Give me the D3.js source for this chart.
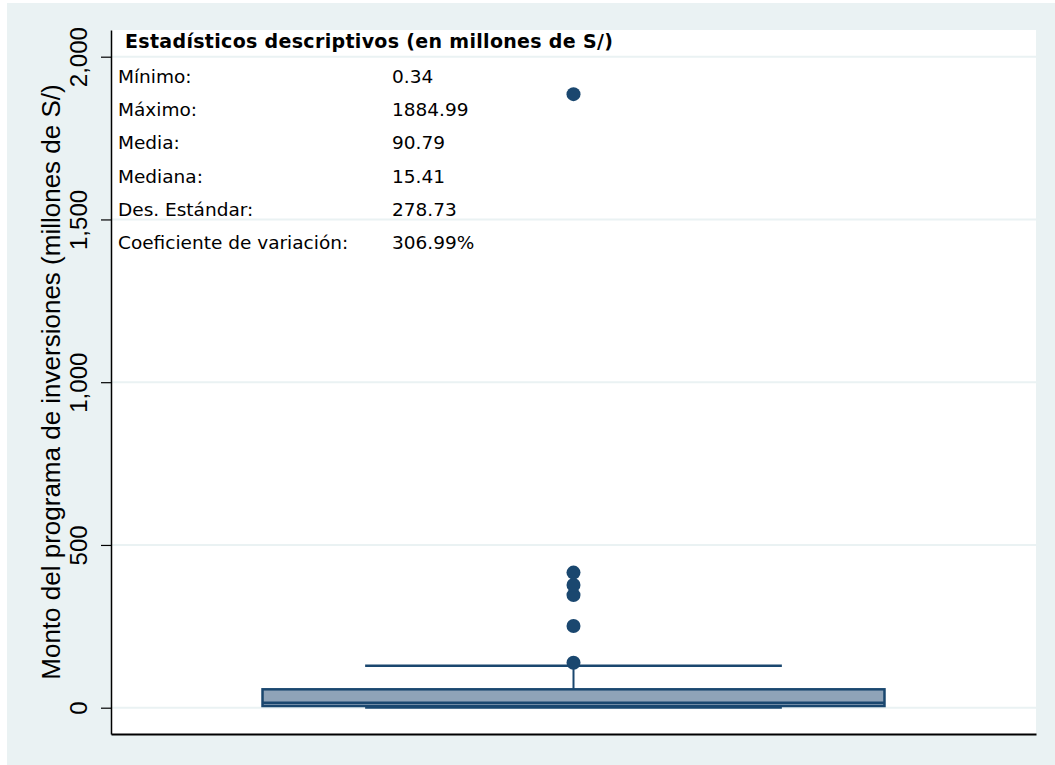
<!DOCTYPE html>
<html>
<head>
<meta charset="utf-8">
<script src="https://cdn.jsdelivr.net/npm/d3@7"></script>
<style>
  body { margin: 0; background: #fff; }
  svg { display: block; }
</style>
</head>
<body>
<svg width="1055" height="765"></svg>
<script>
var svg = d3.select("svg"),
  width = +svg.attr("width"),
  height = +svg.attr("height");

// Data
var category = ["Monto"];
var boxStats = { lowWhisker: 0.34, q1: 5.2, median: 15.41, q3: 56.5, highWhisker: 129 };
var outliers = [138, 251, 346, 377, 415, 1884.99];
var yTicks = [0, 500, 1000, 1500, 2000];
var statLabels = ["Mínimo:", "Máximo:", "Media:", "Mediana:", "Des. Estándar:", "Coeficiente de variación:"];
var statValues = ["0.34", "1884.99", "90.79", "15.41", "278.73", "306.99%"];
var statTitle = "Estadísticos descriptivos (en millones de S/)";
var yTitle = "Monto del programa de inversiones (millones de S/)";

var navy = "#1a476f";
var plot = { left: 111, right: 1036, top: 30, bottom: 734 };

// background + plot region
svg.append("rect").attr("x", 7).attr("y", 3).attr("width", width - 7).attr("height", height - 3)
  .attr("fill", "#eaf2f3");
svg.append("rect").attr("x", plot.left).attr("y", plot.top)
  .attr("width", plot.right - plot.left).attr("height", plot.bottom - plot.top)
  .attr("fill", "#fff");

// scales
var y = d3.scaleLinear().domain([-80.8, 2082]).range([plot.bottom, plot.top]);
var x = d3.scaleBand().domain(category).range([plot.left, plot.right])
  .paddingInner(0).paddingOuter(0.2436);

// gridlines
svg.append("g")
  .selectAll("line")
  .data(yTicks)
  .enter().append("line")
    .attr("x1", plot.left).attr("x2", plot.right)
    .attr("y1", function(d) { return y(d); })
    .attr("y2", function(d) { return y(d); })
    .attr("stroke", "#eaf2f3")
    .attr("stroke-width", 2);

// box plot
var g = svg.append("g");
var cx = x("Monto") + x.bandwidth() / 2;
var capHalf = x.bandwidth() * 0.335;

g.append("line")
  .attr("x1", cx).attr("x2", cx)
  .attr("y1", y(boxStats.q3)).attr("y2", y(boxStats.highWhisker))
  .attr("stroke", navy).attr("stroke-width", 2);
g.append("line")
  .attr("x1", cx).attr("x2", cx)
  .attr("y1", y(boxStats.q1)).attr("y2", y(boxStats.lowWhisker))
  .attr("stroke", navy).attr("stroke-width", 2);

g.append("rect")
  .attr("x", x("Monto"))
  .attr("y", y(boxStats.q3))
  .attr("width", x.bandwidth())
  .attr("height", y(boxStats.q1) - y(boxStats.q3))
  .attr("fill", "#8fa3b8")
  .attr("stroke", navy)
  .attr("stroke-width", 2.5);

g.append("line")
  .attr("x1", x("Monto")).attr("x2", x("Monto") + x.bandwidth())
  .attr("y1", y(boxStats.median)).attr("y2", y(boxStats.median))
  .attr("stroke", navy).attr("stroke-width", 2.5);

g.selectAll(".cap")
  .data([boxStats.highWhisker, boxStats.lowWhisker])
  .enter().append("line")
    .attr("class", "cap")
    .attr("x1", cx - capHalf).attr("x2", cx + capHalf)
    .attr("y1", function(d) { return y(d); })
    .attr("y2", function(d) { return y(d); })
    .attr("stroke", navy).attr("stroke-width", 2.5);

g.selectAll("circle")
  .data(outliers)
  .enter().append("circle")
    .attr("cx", cx)
    .attr("cy", function(d) { return y(d); })
    .attr("r", 7)
    .attr("fill", navy);

// y axis
var yAxis = svg.append("g")
  .attr("transform", "translate(" + plot.left + ",0)")
  .call(d3.axisLeft(y).tickValues(yTicks).tickFormat(d3.format(",")).tickSize(10).tickSizeOuter(0));
yAxis.select(".domain").attr("stroke", "#000").attr("stroke-width", 1.5);
yAxis.selectAll(".tick line").attr("stroke", "#000").attr("stroke-width", 1.2);
yAxis.selectAll(".tick text")
  .attr("transform", "rotate(-90)")
  .attr("x", 0).attr("y", -24).attr("dy", 0)
  .attr("text-anchor", "middle")
  .attr("fill", "#000")
  .style("font-family", "'Liberation Sans', Arial, sans-serif")
  .style("font-size", "24px");

// x axis (no ticks)
var xAxis = svg.append("g")
  .attr("transform", "translate(0," + plot.bottom + ")")
  .call(d3.axisBottom(x).tickValues([]).tickSizeOuter(0));
xAxis.select(".domain").attr("stroke", "#000").attr("stroke-width", 2);

// y title
svg.append("text")
  .attr("transform", "translate(60," + ((plot.top + plot.bottom) / 2) + ") rotate(-90)")
  .attr("text-anchor", "middle")
  .style("font-family", "'Liberation Sans', Arial, sans-serif")
  .style("font-size", "26px")
  .attr("fill", "#000")
  .text(yTitle);

// descriptive stats text block
var statFont = "'DejaVu Sans', Verdana, sans-serif";
svg.append("text")
  .attr("x", 125).attr("y", 48)
  .style("font-family", statFont)
  .style("font-size", "19px")
  .style("letter-spacing", "0.32px")
  .style("font-weight", "bold")
  .text(statTitle);

var rows = svg.append("g").selectAll("g")
  .data(statLabels)
  .enter().append("g")
    .attr("transform", function(d, i) { return "translate(0," + (83 + i * 33.2) + ")"; });
rows.append("text")
  .attr("x", 118)
  .style("font-family", statFont)
  .style("font-size", "18.5px")
  .text(function(d) { return d; });
rows.append("text")
  .attr("x", 392)
  .style("font-family", statFont)
  .style("font-size", "18.5px")
  .text(function(d, i) { return statValues[i]; });
</script>
</body>
</html>
